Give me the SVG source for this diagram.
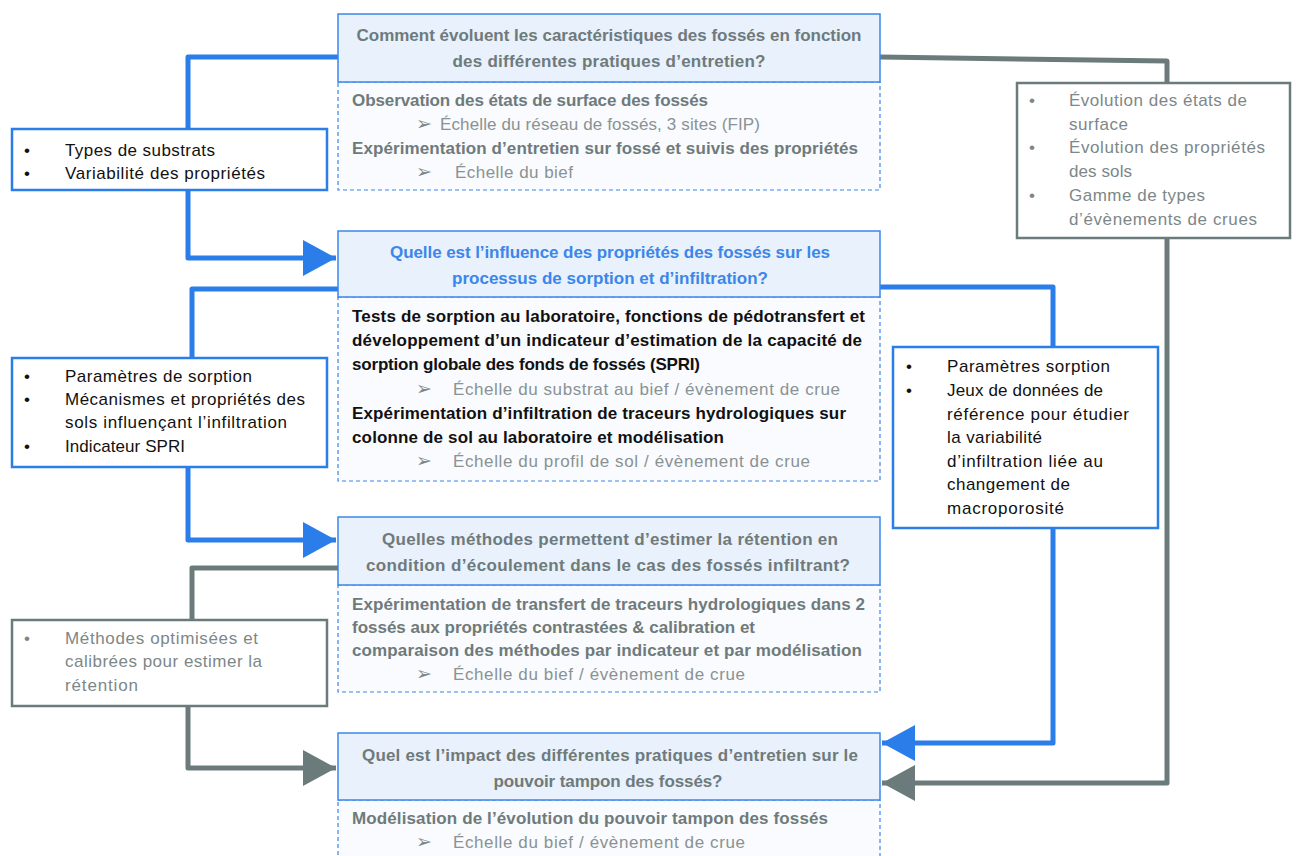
<svg xmlns="http://www.w3.org/2000/svg" width="1296" height="856" viewBox="0 0 1296 856">
<defs>
<style>
text{font-family:"Liberation Sans",Arial,sans-serif;font-size:17px;}
.hd{fill:#e8f1fc;stroke:#3b86ea;stroke-width:1.5;}
.bd{fill:#f9fbfe;stroke:#3b86ea;stroke-width:1.2;stroke-dasharray:4 3;}
.bbox{fill:#ffffff;stroke:#2b7de9;stroke-width:2.5;}
.gbox{fill:#ffffff;stroke:#6b7a7a;stroke-width:2.5;}
.hq{fill:#6f7a7b;font-weight:bold;text-anchor:middle;}
.hqb{fill:#3b86ea;font-weight:bold;text-anchor:middle;}
.bt{fill:#6f7a7b;font-weight:bold;}
.btk{fill:#111111;font-weight:bold;}
.sc{fill:#8a9293;}
.ar{fill:#7d8788;font-size:19px;}
.k{fill:#111111;}
.g{fill:#7d8788;}
.bl{fill:none;stroke:#2b7de9;stroke-width:5;stroke-linejoin:round;}
.gl{fill:none;stroke:#6b7a7a;stroke-width:5;stroke-linejoin:round;}
</style>
<marker id="ab" markerUnits="userSpaceOnUse" markerWidth="34" markerHeight="38" refX="33" refY="18" orient="auto"><path d="M0,0 L33,18 L0,36 Z" fill="#2b7de9"/></marker>
<marker id="ag" markerUnits="userSpaceOnUse" markerWidth="34" markerHeight="38" refX="33" refY="18" orient="auto"><path d="M0,0 L33,18 L0,36 Z" fill="#6b7a7a"/></marker>
</defs>
<rect width="1296" height="856" fill="#ffffff"/>

<g id="connectors">
<path class="bl" d="M188,129 V57 H338"/>
<path class="bl" d="M188,190 V258 H336" marker-end="url(#ab)"/>
<path class="bl" d="M192,358 V289 H338"/>
<path class="bl" d="M188,467 V540 H336" marker-end="url(#ab)"/>
<path class="gl" d="M192,620 V568 H338"/>
<path class="gl" d="M188,706 V768 H336" marker-end="url(#ag)"/>
<path class="bl" d="M880,287 H1053 V347"/>
<path class="bl" d="M1053,528 V743 H882" marker-end="url(#ab)"/>
<path class="gl" d="M880,57 L1167,61 V83"/>
<path class="gl" d="M1167,238 V783 H882" marker-end="url(#ag)"/>
</g>

<g id="q1">
<rect class="bd" x="338" y="82" width="542" height="108"/>
<rect class="hd" x="338" y="14" width="542" height="68"/>
<text class="hq" x="609" y="41" textLength="505">Comment évoluent les caractéristiques des fossés en fonction</text>
<text class="hq" x="609" y="67" textLength="313">des différentes pratiques d’entretien?</text>
<text class="bt" x="352" y="106" textLength="356">Observation des états de surface des fossés</text>
<text class="ar" x="416" y="130">➢</text>
<text class="sc" x="440" y="130" textLength="320">Échelle du réseau de fossés, 3 sites (FIP)</text>
<text class="bt" x="352" y="154" textLength="506">Expérimentation d’entretien sur fossé et suivis des propriétés</text>
<text class="ar" x="416" y="178">➢</text>
<text class="sc" x="455" y="178" textLength="118">Échelle du bief</text>
</g>

<g id="q2">
<rect class="bd" x="338" y="297" width="542" height="184"/>
<rect class="hd" x="338" y="231" width="542" height="66"/>
<text class="hqb" x="610" y="258" textLength="440">Quelle est l’influence des propriétés des fossés sur les</text>
<text class="hqb" x="610" y="284" textLength="316">processus de sorption et d’infiltration?</text>
<text class="btk" x="352" y="322" textLength="513">Tests de sorption au laboratoire, fonctions de pédotransfert et</text>
<text class="btk" x="352" y="346" textLength="510">développement d’un indicateur d’estimation de la capacité de</text>
<text class="btk" x="352" y="370" textLength="348">sorption globale des fonds de fossés (SPRI)</text>
<text class="ar" x="416" y="395">➢</text>
<text class="sc" x="453" y="395" textLength="387">Échelle du substrat au bief / évènement de crue</text>
<text class="btk" x="352" y="419" textLength="494">Expérimentation d’infiltration de traceurs hydrologiques sur</text>
<text class="btk" x="352" y="443" textLength="372">colonne de sol au laboratoire et modélisation</text>
<text class="ar" x="416" y="467">➢</text>
<text class="sc" x="453" y="467" textLength="357">Échelle du profil de sol / évènement de crue</text>
</g>

<g id="q3">
<rect class="bd" x="338" y="585" width="542" height="107"/>
<rect class="hd" x="338" y="517" width="542" height="68"/>
<text class="hq" x="610" y="545" textLength="456">Quelles méthodes permettent d’estimer la rétention en</text>
<text class="hq" x="608" y="571" textLength="484">condition d’écoulement dans le cas des fossés infiltrant?</text>
<text class="bt" x="352" y="610" textLength="513">Expérimentation de transfert de traceurs hydrologiques dans 2</text>
<text class="bt" x="352" y="633" textLength="403">fossés aux propriétés contrastées &amp; calibration et</text>
<text class="bt" x="352" y="656" textLength="510">comparaison des méthodes par indicateur et par modélisation</text>
<text class="ar" x="416" y="680">➢</text>
<text class="sc" x="453" y="680" textLength="292">Échelle du bief / évènement de crue</text>
</g>

<g id="q4">
<rect class="bd" x="338" y="800" width="542" height="70"/>
<rect class="hd" x="338" y="733" width="542" height="67"/>
<text class="hq" x="610" y="761" textLength="496">Quel est l’impact des différentes pratiques d’entretien sur le</text>
<text class="hq" x="608" y="787" textLength="229">pouvoir tampon des fossés?</text>
<text class="bt" x="352" y="824" textLength="476">Modélisation de l’évolution du pouvoir tampon des fossés</text>
<text class="ar" x="416" y="848">➢</text>
<text class="sc" x="453" y="848" textLength="292">Échelle du bief / évènement de crue</text>
</g>

<g id="inA">
<rect class="bbox" x="12" y="129" width="315" height="61"/>
<text class="k" x="24" y="156">•</text>
<text class="k" x="65" y="156" textLength="150">Types de substrats</text>
<text class="k" x="24" y="179">•</text>
<text class="k" x="65" y="179" textLength="200">Variabilité des propriétés</text>
</g>

<g id="inB">
<rect class="bbox" x="12" y="358" width="315" height="109"/>
<text class="k" x="24" y="382">•</text>
<text class="k" x="65" y="382" textLength="187">Paramètres de sorption</text>
<text class="k" x="24" y="405">•</text>
<text class="k" x="65" y="405" textLength="240">Mécanismes et propriétés des</text>
<text class="k" x="65" y="428" textLength="222">sols influençant l’infiltration</text>
<text class="k" x="24" y="452">•</text>
<text class="k" x="65" y="452" textLength="120">Indicateur SPRI</text>
</g>

<g id="inC">
<rect class="gbox" x="12" y="620" width="315" height="86"/>
<text class="g" x="24" y="644">•</text>
<text class="g" x="65" y="644" textLength="193">Méthodes optimisées et</text>
<text class="g" x="65" y="667" textLength="197">calibrées pour estimer la</text>
<text class="g" x="65" y="691" textLength="73">rétention</text>
</g>

<g id="outD">
<rect class="gbox" x="1017" y="83" width="273" height="155"/>
<text class="g" x="1029" y="106">•</text>
<text class="g" x="1069" y="106" textLength="178">Évolution des états de</text>
<text class="g" x="1069" y="130" textLength="59">surface</text>
<text class="g" x="1029" y="153">•</text>
<text class="g" x="1069" y="153" textLength="196">Évolution des propriétés</text>
<text class="g" x="1069" y="177" textLength="63">des sols</text>
<text class="g" x="1029" y="201">•</text>
<text class="g" x="1069" y="201" textLength="136">Gamme de types</text>
<text class="g" x="1069" y="225" textLength="188">d’évènements de crues</text>
</g>

<g id="outE">
<rect class="bbox" x="893" y="347" width="265" height="181"/>
<text class="k" x="906" y="372">•</text>
<text class="k" x="947" y="372" textLength="163">Paramètres sorption</text>
<text class="k" x="906" y="396">•</text>
<text class="k" x="947" y="396" textLength="156">Jeux de données de</text>
<text class="k" x="947" y="420" textLength="182">référence pour étudier</text>
<text class="k" x="947" y="443" textLength="95">la variabilité</text>
<text class="k" x="947" y="467" textLength="156">d’infiltration liée au</text>
<text class="k" x="947" y="490" textLength="123">changement de</text>
<text class="k" x="947" y="514" textLength="117">macroporosité</text>
</g>
</svg>
